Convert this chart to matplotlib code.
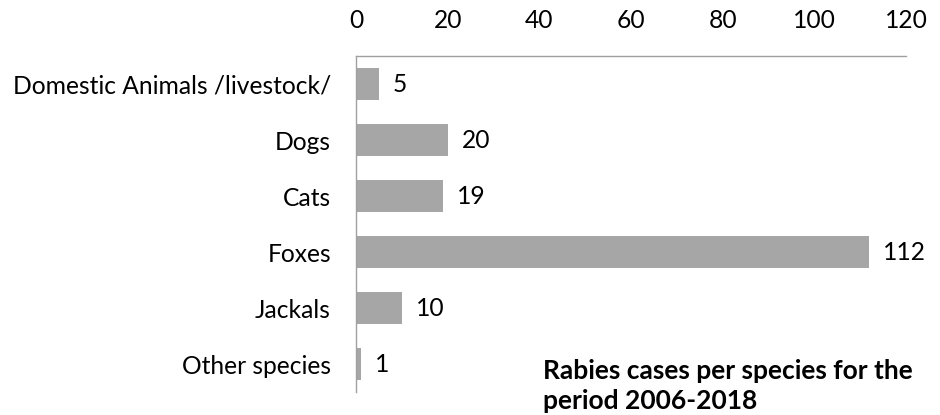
import matplotlib
matplotlib.use("Agg")
import matplotlib.pyplot as plt

categories = ["Domestic Animals /livestock/", "Dogs", "Cats", "Foxes", "Jackals", "Other species"]
values = [5, 20, 19, 112, 10, 1]
xticks = [0, 20, 40, 60, 80, 100, 120]

plt.rcParams['font.family'] = ['Lato', 'DejaVu Sans']

fig = plt.figure(figsize=(9.4, 4.15), dpi=100)
ax = fig.add_axes([356/940, 1-392/415, 550/940, 336/415])

y = list(range(len(categories)))
ax.barh(y, values, height=0.56, color="#A6A6A6")
ax.set_ylim(len(categories)-0.5, -0.5)
ax.set_xlim(0, 120)
ax.set_yticks(y)
ax.set_yticklabels(categories, fontsize=17.7)
ax.set_xticks(xticks)
ax.set_xticklabels([str(t) for t in xticks], fontsize=17.7)
ax.xaxis.tick_top()
ax.tick_params(axis='both', length=0, colors="black")
ax.tick_params(axis='x', pad=17)
ax.tick_params(axis='y', pad=18)
for s in ["right", "bottom"]:
    ax.spines[s].set_visible(False)
for s in ["top", "left"]:
    ax.spines[s].set_color("#A0A0A0")
    ax.spines[s].set_linewidth(1)

for yi, v in zip(y, values):
    ax.annotate(str(v), (v, yi), xytext=(10, 0), textcoords="offset points",
                va="center", ha="left", fontsize=17.7)

fig.text(543/940, 1-386/415, "Rabies cases per species for the\nperiod 2006-2018",
         fontsize=19, fontweight="bold", va="center", ha="left", linespacing=1.3)

fig.savefig("out.png", dpi=100)
